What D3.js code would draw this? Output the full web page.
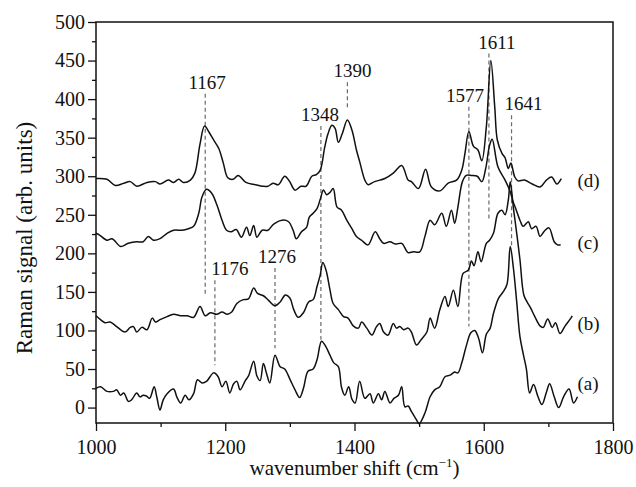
<!DOCTYPE html>
<html>
<head>
<meta charset="utf-8">
<script src="https://cdn.jsdelivr.net/npm/d3@7/dist/d3.min.js"></script>
<style>
  body { margin: 0; background: #fff; }
  svg text { font-family: "Liberation Serif", "Times New Roman", serif; fill: #111; }
</style>
</head>
<body>
<script>
// spectrum (a)
var waveA = [1000,1007,1017,1027,1032,1038,1043,1050,1055,1063,1068,1073,1078,1083,1090,1094,1099,1104,1110,1120,
  1125,1131,1138,1144,1151,1157,1164,1171,1182,1189,1195,1201,1207,1213,1218,1223,1231,1236,1244,1249,
  1254,1259,1264,1269,1277,1285,1292,1300,1308,1315,1321,1328,1336,1342,1349,1355,1362,1368,1375,1380,
  1385,1391,1396,1401,1408,1416,1424,1429,1437,1442,1447,1455,1461,1468,1473,1478,1483,1488,1496,1500,
  1509,1517,1524,1532,1540,1548,1555,1560,1566,1573,1580,1586,1592,1598,1604,1610,1615,1623,1630,1636,
  1641,1646,1651,1656,1661,1666,1671,1677,1684,1690,1697,1702,1709,1716,1724,1732,1739,1745];
var sigA = [25,27,21,21,23,16,19,8,10,19,14,16,15,12,27,14,-3,10,18,24,
  14,6,16,10,18,36,32,34,45,40,27,34,19,31,34,23,35,41,60,41,
  35,57,44,32,68,53,50,37,23,13,25,47,50,62,86,80,68,58,53,26,
  16,27,11,6,34,12,18,6,18,10,21,6,12,16,27,1,2,-5,-16,-21,
  -7,14,23,27,40,42,46,45,58,80,97,100,90,71,95,103,122,142,150,160,
  209,180,137,92,70,50,19,30,14,4,20,31,14,0,15,24,6,14];

// spectrum (b)
var waveB = [1000,1007,1014,1022,1032,1045,1053,1058,1063,1071,1079,1087,1092,1099,1110,1120,1131,1141,1151,1161,
  1169,1177,1187,1195,1203,1210,1218,1228,1236,1244,1250,1259,1267,1277,1285,1293,1300,1306,1313,1321,
  1329,1336,1342,1347,1351,1356,1362,1367,1375,1383,1390,1398,1406,1411,1419,1427,1434,1439,1445,1452,
  1460,1465,1470,1476,1483,1488,1496,1503,1512,1517,1524,1532,1540,1545,1553,1560,1568,1576,1581,1585,
  1591,1596,1604,1609,1615,1622,1628,1633,1638,1641,1646,1651,1656,1662,1667,1672,1679,1687,1692,1699,
  1706,1711,1718,1726,1734,1737];
var sigB = [119,114,110,111,105,98,104,105,98,104,101,116,111,114,118,121,119,119,117,131,
  119,123,121,124,121,124,135,140,141,155,148,145,139,132,137,146,142,127,117,123,
  137,140,157,172,188,178,153,135,127,118,116,106,103,111,103,94,105,109,98,94,
  109,103,105,101,103,98,81,88,98,116,103,127,144,131,152,131,174,178,190,184,
  202,189,213,217,226,252,256,250,269,293,258,226,192,146,137,130,118,106,104,115,
  104,110,96,106,115,119];

// spectrum (c)
var waveC = [1000,1005,1017,1025,1038,1050,1063,1073,1081,1089,1099,1110,1120,1133,1143,1151,1159,1164,1171,1179,
  1187,1195,1202,1209,1217,1225,1233,1238,1244,1249,1257,1266,1275,1288,1298,1305,1310,1318,1326,1330,
  1336,1342,1347,1352,1357,1362,1367,1373,1380,1388,1396,1403,1411,1421,1432,1439,1445,1455,1463,1473,
  1483,1491,1501,1509,1517,1524,1535,1542,1550,1555,1560,1567,1573,1581,1590,1597,1603,1609,1613,1622,
  1633,1641,1645,1650,1656,1661,1669,1674,1681,1687,1694,1701,1709,1714,1719];
var sigC = [226,224,217,219,209,213,215,215,222,217,219,226,230,230,232,235,252,273,283,278,
  263,243,230,228,231,221,234,223,236,221,230,230,238,243,241,230,219,228,234,247,
  252,258,270,282,276,279,284,260,256,243,232,222,217,211,228,219,213,215,212,213,
  201,202,202,222,243,237,252,235,256,239,260,293,301,301,300,293,310,340,348,312,
  295,280,268,257,243,235,241,232,235,222,229,233,215,211,211];

// spectrum (d)
var waveD = [1000,1017,1030,1043,1053,1063,1079,1092,1099,1112,1120,1128,1135,1146,1153,1161,1168,1175,1182,1190,
  1197,1204,1212,1220,1232,1247,1258,1266,1274,1282,1292,1299,1308,1317,1325,1334,1341,1347,1354,1359,
  1365,1370,1375,1381,1389,1396,1403,1408,1416,1421,1431,1447,1460,1473,1483,1488,1499,1510,1519,1532,
  1545,1558,1566,1571,1577,1584,1591,1597,1604,1611,1617,1621,1628,1633,1638,1642,1648,1653,1663,1675,
  1687,1697,1705,1713,1720];
var sigD = [297,296,288,291,293,287,292,293,290,295,292,296,292,295,304,342,365,357,347,336,
  317,298,296,301,292,289,287,287,291,289,300,294,282,287,287,300,302,308,338,355,
  366,362,344,355,373,360,334,319,295,289,293,297,304,314,295,293,284,309,286,281,
  291,295,308,330,358,339,334,320,364,450,390,347,330,324,310,317,299,294,295,290,
  286,295,299,290,297];

var seriesNames = ["(a)", "(b)", "(c)", "(d)"];

// marked peaks: label, dashed line position and its extent
var peakLabels = ["1167", "1176", "1276", "1348", "1390", "1577", "1611", "1641"];
var peakWave = [1169, 1184, 1277, 1348, 1389, 1577, 1608, 1643];
var dashTop = [407, 165, 181, 365, 422, 390, 459, 379];
var dashBottom = [144, 55, 77, 88, 388, 105, 243, 210];

var xTicks = [1000, 1200, 1400, 1600, 1800];
var xMinor = [1100, 1300, 1500, 1700];
var yTicks = [0, 50, 100, 150, 200, 250, 300, 350, 400, 450, 500];
var yMinor = [25, 75, 125, 175, 225, 275, 325, 375, 425, 475];

var series = [
  {name: seriesNames[0], wave: waveA, sig: sigA},
  {name: seriesNames[1], wave: waveB, sig: sigB},
  {name: seriesNames[2], wave: waveC, sig: sigC},
  {name: seriesNames[3], wave: waveD, sig: sigD}
];

var fullwidth = 636, fullheight = 487;
var plotLeft = 96, plotRight = 613, plotTop = 22, plotBottom = 423;

var svg = d3.select("body").append("svg")
    .attr("width", fullwidth)
    .attr("height", fullheight);

var x = d3.scaleLinear().domain([1000, 1800]).range([plotLeft, plotRight]);
var y = d3.scaleLinear().domain([-20, 500]).range([plotBottom, plotTop]);

// dashed peak markers (under the spectra)
var labelShift = [2, 15, 2, -1, 5, -4, 8, 12];
peakLabels.forEach(function(lab, i) {
  svg.append("line")
      .attr("x1", x(peakWave[i])).attr("x2", x(peakWave[i]))
      .attr("y1", y(dashTop[i])).attr("y2", y(dashBottom[i]))
      .attr("stroke", "#6a6a6a")
      .attr("stroke-width", 1.2)
      .attr("stroke-dasharray", "4,3");
  svg.append("text")
      .attr("x", x(peakWave[i]) + labelShift[i])
      .attr("y", y(dashTop[i]) - 5)
      .attr("text-anchor", "middle")
      .style("font-size", "19px")
      .text(lab);
});

// spectra
var line = d3.line()
    .x(function(d) { return x(d[0]); })
    .y(function(d) { return y(d[1]); })
    .curve(d3.curveCatmullRom.alpha(0.5));

var labelValue = [23, 101, 206, 286];
series.forEach(function(s, i) {
  var pts = s.wave.map(function(w, j) { return [w, s.sig[j]]; });
  svg.append("path")
      .datum(pts)
      .attr("fill", "none")
      .attr("stroke", "#111")
      .attr("stroke-width", 1.5)
      .attr("stroke-linejoin", "round")
      .attr("d", line);
  svg.append("text")
      .attr("x", x(1745))
      .attr("y", y(labelValue[i]))
      .style("font-size", "19px")
      .text(s.name);
});

// axes
svg.append("g")
    .attr("transform", "translate(0," + plotBottom + ")")
    .call(d3.axisBottom(x).tickValues(xTicks).tickSize(8).tickPadding(9).tickFormat(d3.format("d")));
svg.append("g")
    .attr("transform", "translate(0," + plotBottom + ")")
    .call(d3.axisBottom(x).tickValues(xMinor).tickSize(4).tickFormat(""));

svg.append("g")
    .attr("transform", "translate(" + plotLeft + ",0)")
    .call(d3.axisLeft(y).tickValues(yTicks).tickSize(8).tickPadding(3));
svg.append("g")
    .attr("transform", "translate(" + plotLeft + ",0)")
    .call(d3.axisLeft(y).tickValues(yMinor).tickSize(4).tickFormat(""));

svg.selectAll(".tick line").attr("stroke", "#111").attr("stroke-width", 1.3);
svg.selectAll(".domain").remove();
svg.selectAll(".tick text")
    .style("font-family", "'Liberation Serif', 'Times New Roman', serif")
    .style("font-size", "20px")
    .attr("fill", "#111");

// frame
svg.append("rect")
    .attr("x", plotLeft).attr("y", plotTop)
    .attr("width", plotRight - plotLeft).attr("height", plotBottom - plotTop)
    .attr("fill", "none")
    .attr("stroke", "#111")
    .attr("stroke-width", 1.5);

// axis titles
svg.append("text")
    .attr("transform", "translate(32,238) rotate(-90)")
    .attr("text-anchor", "middle")
    .style("font-size", "23px")
    .text("Raman signal (arb. units)");

var xt = svg.append("text")
    .attr("x", (plotLeft + plotRight) / 2)
    .attr("y", 475)
    .attr("text-anchor", "middle")
    .style("font-size", "21px");
xt.append("tspan").text("wavenumber shift (cm");
xt.append("tspan").attr("dy", -8).style("font-size", "13px").text("\u22121");
xt.append("tspan").attr("dy", 8).text(")");
</script>
</body>
</html>
